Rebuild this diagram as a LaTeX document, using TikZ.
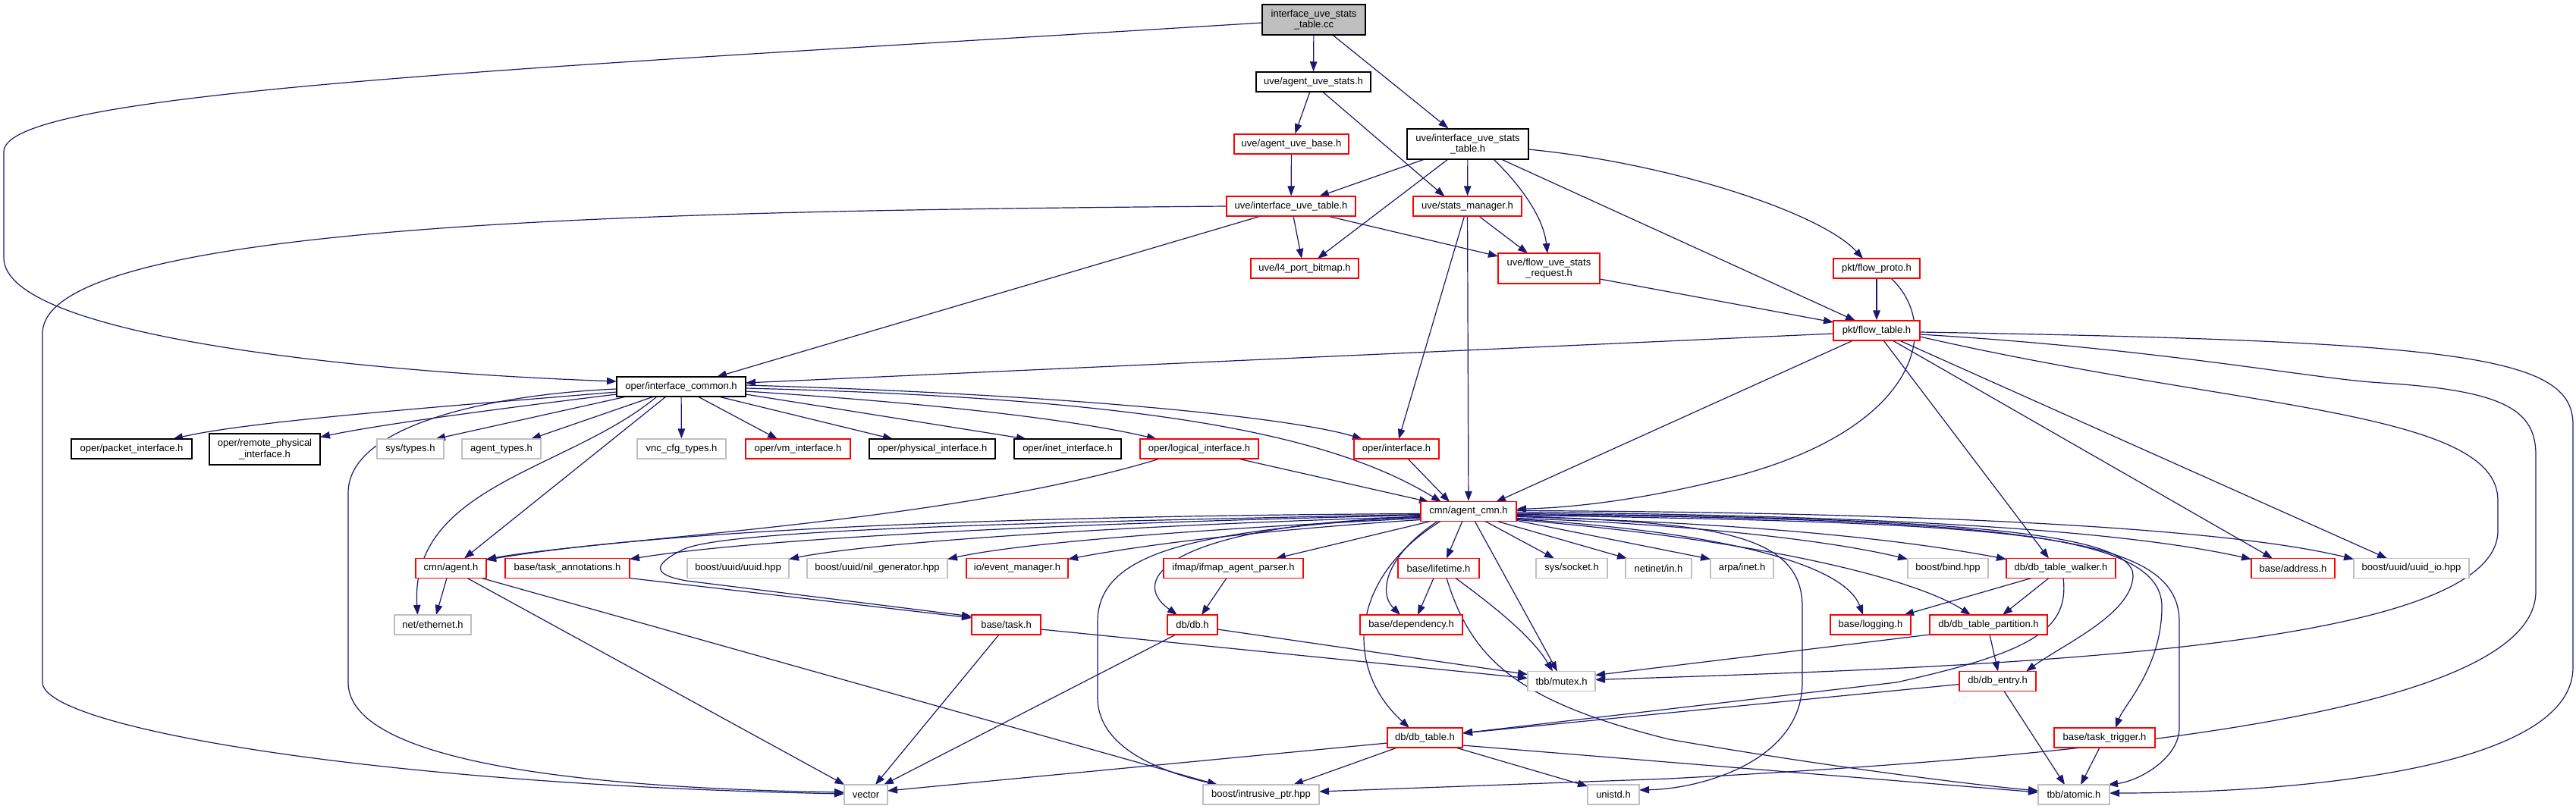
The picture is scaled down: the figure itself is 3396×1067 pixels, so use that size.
\documentclass[tikz,border=0pt]{standalone}
\usepackage{fontspec}
\setmainfont{Liberation Sans}
\usetikzlibrary{arrows.meta,calc}
\definecolor{edgeblue}{HTML}{191970}
\definecolor{nodegray}{HTML}{BFBFBF}
\definecolor{nodered}{HTML}{FF0000}
\pgfdeclarelayer{back}
\pgfdeclarelayer{edges}
\pgfsetlayers{back,edges,main}
\begin{document}
\begin{tikzpicture}[x=1pt,y=-1pt,
 box/.style={rectangle, draw, fill=white, line width=1.3pt, inner sep=0pt, minimum height=26pt, font=\fontsize{13}{14.5}\selectfont, align=center},
 blackbox/.style={box, draw=black, line width=1.5pt},
 redbox/.style={box, draw=nodered},
 graybox/.style={box, draw=nodegray},
 conn/.style={draw=edgeblue, line width=1.2pt, -{Triangle[length=13pt,width=9.5pt]}}
]
\begin{pgfonlayer}{back}
\fill[white] (0,0) rectangle (3396,1067);
\end{pgfonlayer}
\useasboundingbox (0,0) rectangle (3396,1067);

% nodes
\node[blackbox, fill=nodegray, minimum width=136pt, minimum height=40pt] (cc) at (1732,26) {interface\_uve\_stats\\\_table.cc};
\node[blackbox, minimum width=151pt] (aus) at (1731.5,108) {uve/agent\_uve\_stats.h};
\node[redbox, minimum width=151pt] (aub) at (1702.5,190) {uve/agent\_uve\_base.h};
\node[blackbox, minimum width=160pt, minimum height=40pt] (iust) at (1935,190) {uve/interface\_uve\_stats\\\_table.h};
\node[redbox, minimum width=170pt] (iut) at (1702,272) {uve/interface\_uve\_table.h};
\node[redbox, minimum width=143pt] (sm) at (1934.5,272) {uve/stats\_manager.h};
\node[redbox, minimum width=142pt] (l4) at (1720,354) {uve/l4\_port\_bitmap.h};
\node[redbox, minimum width=134pt, minimum height=40pt] (fusr) at (2042,354) {uve/flow\_uve\_stats\\\_request.h};
\node[redbox, minimum width=114pt] (fp) at (2474,354) {pkt/flow\_proto.h};
\node[redbox, minimum width=114pt] (ft) at (2474,436) {pkt/flow\_table.h};
\node[blackbox, minimum width=170pt] (ic) at (898,510) {oper/interface\_common.h};

\node[blackbox, minimum width=159pt] (pi) at (173.5,592) {oper/packet\_interface.h};
\node[blackbox, minimum width=146pt, minimum height=41pt] (rpi) at (349,592.5) {oper/remote\_physical\\\_interface.h};
\node[graybox, minimum width=88pt] (st) at (541,592) {sys/types.h};
\node[graybox, minimum width=104pt] (atyp) at (661,592) {agent\_types.h};
\node[graybox, minimum width=117pt] (vct) at (898.5,592) {vnc\_cfg\_types.h};
\node[redbox, minimum width=138pt] (vmi) at (1052,592) {oper/vm\_interface.h};
\node[blackbox, minimum width=166pt] (phi) at (1229,592) {oper/physical\_interface.h};
\node[blackbox, minimum width=141pt] (ini) at (1407.5,592) {oper/inet\_interface.h};
\node[redbox, minimum width=156pt] (li) at (1581,592) {oper/logical\_interface.h};
\node[redbox, minimum width=112pt] (oi) at (1841,592) {oper/interface.h};

\node[redbox, minimum width=126pt] (acmn) at (1936,674.5) {cmn/agent\_cmn.h};

\node[redbox, minimum width=93pt] (agent) at (594.5,749.5) {cmn/agent.h};
\node[redbox, minimum width=164pt] (ta) at (748,749.5) {base/task\_annotations.h};
\node[graybox, minimum width=134pt] (uuid) at (973,749.5) {boost/uuid/uuid.hpp};
\node[graybox, minimum width=185pt] (nil) at (1156.5,749.5) {boost/uuid/nil\_generator.hpp};
\node[redbox, minimum width=134pt] (em) at (1341,749.5) {io/event\_manager.h};
\node[redbox, minimum width=184pt] (iap) at (1626,749.5) {ifmap/ifmap\_agent\_parser.h};
\node[redbox, minimum width=107pt] (lt) at (1896.5,749.5) {base/lifetime.h};
\node[graybox, minimum width=94pt] (sock) at (2072,749.5) {sys/socket.h};
\node[graybox, minimum width=87pt] (nin) at (2186.5,749.5) {netinet/in.h};
\node[graybox, minimum width=83pt] (ainet) at (2296.5,749.5) {arpa/inet.h};
\node[graybox, minimum width=106pt] (bind) at (2568,749.5) {boost/bind.hpp};
\node[redbox, minimum width=144pt] (dtw) at (2717,749.5) {db/db\_table\_walker.h};
\node[redbox, minimum width=110pt] (addr) at (3023,749.5) {base/address.h};
\node[graybox, minimum width=152pt] (uuidio) at (3179,749.5) {boost/uuid/uuid\_io.hpp};

\node[graybox, minimum width=101pt] (eth) at (570.5,824) {net/ethernet.h};
\node[redbox, minimum width=91pt] (task) at (1326.5,824) {base/task.h};
\node[redbox, minimum width=66pt] (db) at (1572,824) {db/db.h};
\node[redbox, minimum width=135pt] (dep) at (1860.5,824) {base/dependency.h};
\node[redbox, minimum width=106pt] (log) at (2466,824) {base/logging.h};
\node[redbox, minimum width=155pt] (dtp) at (2621.5,824) {db/db\_table\_partition.h};

\node[graybox, minimum width=89pt] (mutex) at (2058.5,898.5) {tbb/mutex.h};
\node[redbox, minimum width=101pt] (dbe) at (2633.5,898.5) {db/db\_entry.h};

\node[redbox, minimum width=99pt] (dbt) at (1878.5,973) {db/db\_table.h};
\node[redbox, minimum width=133pt] (tt) at (2774.5,973) {base/task\_trigger.h};

\node[graybox, minimum width=57pt] (vec) at (1141.5,1048) {vector};
\node[graybox, minimum width=153pt] (iptr) at (1662.5,1048) {boost/intrusive\_ptr.hpp};
\node[graybox, minimum width=68pt] (unistd) at (2127,1048) {unistd.h};
\node[graybox, minimum width=94pt] (atomic) at (2734,1048) {tbb/atomic.h};

\begin{pgfonlayer}{edges}
% top
\draw[conn] ($(cc)+(-68,4)$) .. controls (700,90) and (5,120) .. (5,200) -- (5,340) .. controls (5,440) and (450,490) .. ($(ic)+(-85,-7)$);
\draw[conn] (cc) -- (aus);
\draw[conn] (cc) -- (iust);
\draw[conn] (aus) -- (aub);
\draw[conn] ($(aus)+(12,13)$) -- ($(sm)+(-30,-13)$);
\draw[conn] (aub) -- (iut);
\draw[conn] ($(iust)+(-57,20)$) -- ($(iut)+(37,-13)$);
\draw[conn] ($(iust)+(-26,20)$) -- ($(l4)+(17,-13)$);
\draw[conn] (iust) -- (sm);
\draw[conn] ($(iust)+(34,20)$) .. controls (2010,250) and (2035,290) .. ($(fusr)+(-2,-20)$);
\draw[conn] ($(iust)+(44,20)$) -- ($(ft)+(-28,-13)$);
\draw[conn] ($(iust)+(80,7)$) .. controls (2200,215) and (2400,280) .. ($(fp)+(-18,-13)$);
\draw[conn] ($(iut)+(-40,13)$) -- ($(ic)+(47,-13)$);
\draw[conn] ($(iut)+(3,13)$) -- ($(l4)+(-4,-13)$);
\draw[conn] ($(iut)+(48,13)$) -- ($(fusr)+(-67,-16)$);
\draw[conn] ($(iut)+(-85,0)$) .. controls (900,278) and (56,290) .. (56,440) -- (56,900) .. controls (56,960) and (500,1035) .. ($(vec)+(-28.5,-1)$);
\draw[conn] ($(sm)+(15,13)$) -- ($(fusr)+(-28,-20)$);
\draw[conn] ($(sm)+(-4,13)$) -- ($(oi)+(3,-13)$);
\draw[conn] (sm) -- (acmn);
\draw[conn] ($(fusr)+(67,14)$) -- ($(ft)+(-57,-11)$);
\draw[conn] (fp) -- (ft);
\draw[conn] ($(fp)+(19,13)$) .. controls (2560,430) and (2530,560) .. (2300,625) .. controls (2150,665) and (2050,670) .. ($(acmn)+(63,-3)$);
% flow table
\draw[conn] ($(ft)+(-57,4)$) -- ($(ic)+(85,-5)$);
\draw[conn] ($(ft)+(-31,13)$) -- ($(acmn)+(36,-12.5)$);
\draw[conn] ($(ft)+(9,13)$) -- ($(dtw)+(-16,-13)$);
\draw[conn] ($(ft)+(21,13)$) -- ($(addr)+(-27,-13)$);
\draw[conn] ($(ft)+(30,13)$) -- ($(uuidio)+(-32,-13)$);
\draw[conn] ($(ft)+(57,2)$) .. controls (3250,450) and (3392,470) .. (3392,560) -- (3392,880) .. controls (3392,1020) and (3000,1046) .. ($(atomic)+(47,-2)$);
\draw[conn] ($(ft)+(57,5)$) .. controls (2850,460) and (3050,500) .. (3140,505) .. controls (3300,515) and (3343,540) .. (3343,600) -- (3343,780) .. controls (3343,950) and (2700,1000) .. (2200,1027) -- ($(iptr)+(76.5,-4)$);
\draw[conn] ($(ft)+(57,8)$) .. controls (2950,540) and (3293,540) .. (3293,660) -- (3293,700) .. controls (3293,860) and (2600,880) .. ($(mutex)+(44.5,-2)$);
% interface_common
\draw[conn] ($(ic)+(-85,7)$) .. controls (600,535) and (330,555) .. ($(pi)+(54.5,-13)$);
\draw[conn] ($(ic)+(-85,10)$) .. controls (650,540) and (500,560) .. ($(rpi)+(73,-16)$);
\draw[conn] ($(ic)+(-72,13)$) -- ($(st)+(33,-13)$);
\draw[conn] ($(ic)+(-36,13)$) -- ($(atyp)+(39,-13)$);
\draw[conn] ($(ic)+(-32,13)$) .. controls (750,620) and (540,640) .. ($(eth)+(-20,-13)$);
\draw[conn] ($(ic)+(-20,13)$) -- ($(agent)+(17.5,-13)$);
\draw[conn] (ic) -- (vct);
\draw[conn] ($(ic)+(22,13)$) -- ($(vmi)+(-27,-13)$);
\draw[conn] ($(ic)+(49,13)$) -- ($(phi)+(-52,-13)$);
\draw[conn] ($(ic)+(85,10)$) -- ($(ini)+(-54.5,-13)$);
\draw[conn] ($(ic)+(85,6)$) .. controls (1200,530) and (1400,550) .. ($(li)+(-56,-13)$);
\draw[conn] ($(ic)+(85,2)$) .. controls (1500,525) and (1750,570) .. ($(acmn)+(-36,-12.5)$);
\draw[conn] ($(ic)+(85,-2)$) .. controls (1400,520) and (1700,550) .. ($(oi)+(-45,-13)$);
\draw[conn] ($(ic)+(-85,3)$) .. controls (650,520) and (459,560) .. (459,650) -- (459,900) .. controls (459,1010) and (800,1040) .. ($(vec)+(-28.5,-3)$);
\draw[conn] ($(li)+(-52,13)$) .. controls (1250,690) and (800,710) .. ($(agent)+(46.5,-12)$);
\draw[conn] ($(li)+(51,13)$) -- ($(acmn)+(-52,-12.5)$);
\draw[conn] ($(oi)+(15,13)$) -- ($(acmn)+(-25,-12.5)$);
% agent_cmn
\draw[conn] ($(acmn)+(-63,3)$) .. controls (1400,680) and (900,695) .. ($(agent)+(46.5,-11)$);
\draw[conn] ($(acmn)+(-63,5)$) .. controls (1400,690) and (1000,710) .. ($(ta)+(82,-12)$);
\draw[conn] ($(acmn)+(-63,7)$) .. controls (1500,692) and (1150,715) .. ($(uuid)+(67,-12)$);
\draw[conn] ($(acmn)+(-63,9)$) .. controls (1600,697) and (1350,715) .. ($(nil)+(92.5,-12)$);
\draw[conn] ($(acmn)+(-63,11)$) .. controls (1650,700) and (1500,720) .. ($(em)+(67,-12)$);
\draw[conn] ($(acmn)+(-48,12.5)$) -- ($(iap)+(56,-13)$);
\draw[conn] ($(acmn)+(-63,4)$) .. controls (1300,690) and (950,700) .. (900,725) .. controls (860,745) and (860,758) .. (905,766) -- ($(task)+(-45.5,-11)$);
\draw[conn] ($(acmn)+(-63,8)$) .. controls (1560,690) and (1480,760) .. ($(db)+(-20,-13)$);
\draw[conn] ($(acmn)+(-63,6)$) .. controls (1600,700) and (1447,720) .. (1447,820) -- (1447,920) .. controls (1447,990) and (1540,1020) .. ($(iptr)+(-57.5,-13)$);
\draw[conn] ($(acmn)+(-8,12.5)$) -- ($(lt)+(10.5,-13)$);
\draw[conn] ($(acmn)+(-40,12.5)$) .. controls (1830,730) and (1815,780) .. ($(dep)+(-14.5,-13)$);
\draw[conn] ($(acmn)+(-36,12.5)$) .. controls (1780,760) and (1770,880) .. ($(dbt)+(-20.5,-13)$);
\draw[conn] ($(acmn)+(8,12.5)$) -- ($(mutex)+(-5.5,-13)$);
\draw[conn] ($(acmn)+(21,12.5)$) -- ($(sock)+(-23,-13)$);
\draw[conn] ($(acmn)+(36,12.5)$) -- ($(nin)+(-41.5,-13)$);
\draw[conn] ($(acmn)+(63,12)$) -- ($(ainet)+(-41.5,-12)$);
\draw[conn] ($(acmn)+(63,6)$) .. controls (2250,690) and (2376,700) .. (2376,800) -- (2376,900) .. controls (2376,1000) and (2250,1040) .. ($(unistd)+(34,-6)$);
\draw[conn] ($(acmn)+(63,9)$) .. controls (2200,690) and (2400,710) .. ($(bind)+(-53,-12)$);
\draw[conn] ($(acmn)+(63,7)$) .. controls (2300,690) and (2500,710) .. ($(dtw)+(-72,-12)$);
\draw[conn] ($(acmn)+(63,1)$) .. controls (2500,680) and (2800,700) .. ($(addr)+(-55,-12)$);
\draw[conn] ($(acmn)+(63,-1)$) .. controls (2600,676) and (2950,700) .. ($(uuidio)+(-76,-12)$);
\draw[conn] ($(acmn)+(63,10)$) .. controls (2250,700) and (2430,740) .. ($(log)+(-10,-13)$);
\draw[conn] ($(acmn)+(63,11)$) .. controls (2300,710) and (2520,760) .. ($(dtp)+(-23.5,-13)$);
\draw[conn] ($(acmn)+(63,3)$) .. controls (2550,682) and (2815,700) .. (2812,760) .. controls (2810,810) and (2720,850) .. ($(dbe)+(37.5,-13)$);
\draw[conn] ($(acmn)+(63,4)$) .. controls (2600,685) and (2850,700) .. (2850,800) .. controls (2850,880) and (2800,930) .. ($(tt)+(14.5,-13)$);
\draw[conn] ($(acmn)+(63,5)$) .. controls (2650,690) and (2873,700) .. (2873,820) -- (2873,960) .. controls (2873,1000) and (2820,1030) .. ($(atomic)+(45,-13)$);
% lower
\draw[conn] ($(agent)+(-5.5,13)$) -- ($(eth)+(4.5,-13)$);
\draw[conn] ($(agent)+(21.5,13)$) -- ($(vec)+(-28,-13)$);
\draw[conn] ($(agent)+(40.5,13)$) -- ($(iptr)+(-57.5,-13)$);
\draw[conn] ($(ta)+(82,13)$) -- ($(task)+(-45.5,-9)$);
\draw[conn] ($(task)+(45.5,6)$) -- ($(mutex)+(-44.5,-4)$);
\draw[conn] ($(task)+(-9.5,13)$) -- ($(vec)+(12.5,-13)$);
\draw[conn] ($(iap)+(-9,13)$) -- ($(db)+(12,-13)$);
\draw[conn] ($(db)+(33,6)$) -- ($(mutex)+(-44.5,-9)$);
\draw[conn] ($(db)+(-22,13)$) -- ($(vec)+(23.5,-13)$);
\draw[conn] ($(lt)+(-6.5,13)$) -- ($(dep)+(8.5,-13)$);
\draw[conn] ($(lt)+(22.5,13)$) .. controls (1970,800) and (2020,840) .. ($(mutex)+(-11.5,-13)$);
\draw[conn] ($(lt)+(10.5,13)$) .. controls (1940,870) and (2000,925) .. (2200,975) .. controls (2400,1010) and (2600,1035) .. ($(atomic)+(-47,-5)$);
\draw[conn] ($(dtw)+(-39,13)$) -- ($(log)+(44,-13)$);
\draw[conn] ($(dtw)+(-16,13)$) -- ($(dtp)+(18.5,-13)$);
\draw[conn] ($(dtw)+(3,13)$) .. controls (2728,830) and (2680,860) .. (2500,900) -- ($(dbt)+(49.5,-6)$);
\draw[conn] ($(dbe)+(-50.5,4)$) -- ($(dbt)+(49.5,-6)$);
\draw[conn] ($(dtp)+(1.5,13)$) -- ($(dbe)+(0.5,-13)$);
\draw[conn] ($(dtp)+(-77.5,13)$) -- ($(mutex)+(44.5,-8)$);
\draw[conn] ($(dbe)+(8.5,13)$) -- ($(atomic)+(-12,-13)$);
\draw[conn] ($(tt)+(-6.5,13)$) -- ($(atomic)+(9,-13)$);
\draw[conn] ($(dbt)+(-49.5,7)$) -- ($(vec)+(28.5,-5)$);
\draw[conn] ($(dbt)+(-36.5,13)$) -- ($(iptr)+(42.5,-13)$);
\draw[conn] ($(dbt)+(40.5,13)$) -- ($(unistd)+(-34,-11)$);
\draw[conn] ($(dbt)+(49.5,10)$) -- ($(atomic)+(-47,-3)$);
\end{pgfonlayer}
\end{tikzpicture}
\end{document}
